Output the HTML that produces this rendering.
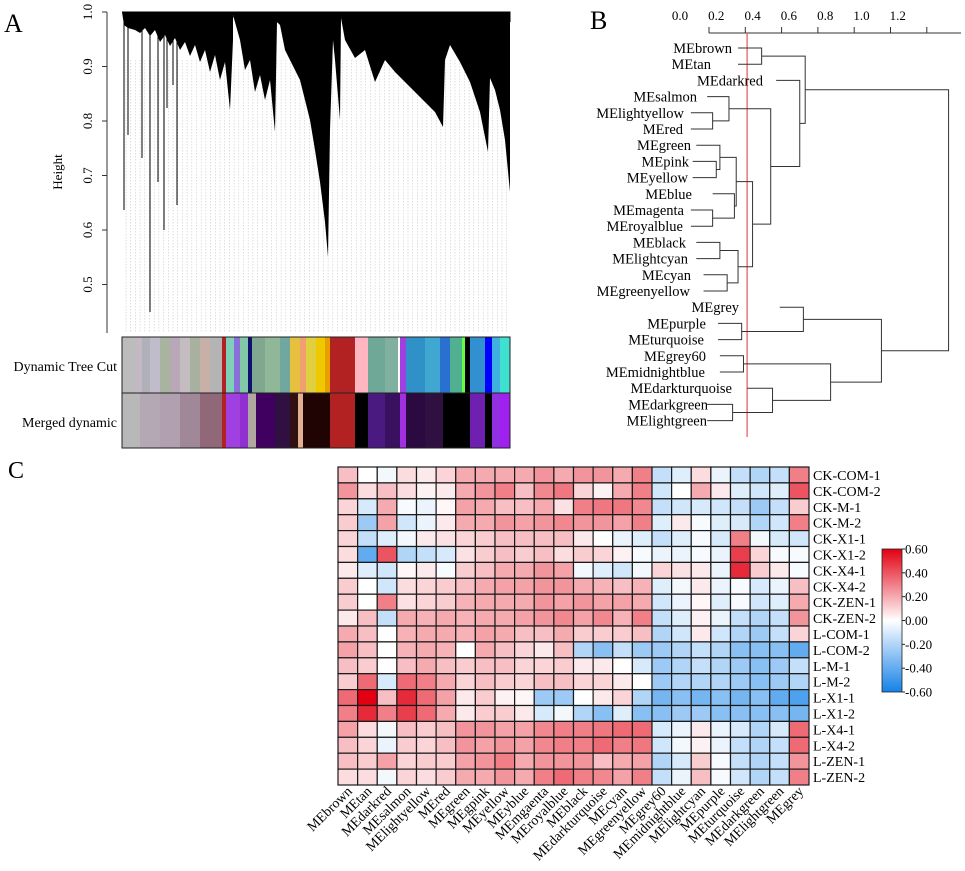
<!DOCTYPE html>
<html><head><meta charset="utf-8"><style>
html,body{margin:0;padding:0;background:#fff}
svg{display:block;font-family:"Liberation Serif",serif}
</style></head><body>
<svg id="fig" width="965" height="871" viewBox="0 0 965 871" xmlns="http://www.w3.org/2000/svg">
<g id="panelA"></g>
<g id="panelB"></g>
<g id="panelC"></g>
</svg>
<script>
// ===== Panel C data =====
const rowLabels = ["CK-COM-1","CK-COM-2","CK-M-1","CK-M-2","CK-X1-1","CK-X1-2","CK-X4-1","CK-X4-2","CK-ZEN-1","CK-ZEN-2","L-COM-1","L-COM-2","L-M-1","L-M-2","L-X1-1","L-X1-2","L-X4-1","L-X4-2","L-ZEN-1","L-ZEN-2"];
const colLabels = ["MEbrown","MEtan","MEdarkred","MEsalmon","MElightyellow","MEred","MEgreen","MEgpink","MEyellow","MEyblue","MEmgaenta","MEroyalblue","MEblack","MEdarkturquoise","MEcyan","MEgreenyellow","MEgrey60","MEmidnightblue","MElightcyan","MEpurple","MEturquoise","MEdarkgreen","MElightgreen","MEgrey"];
const corrValues = [
[.15,0,-.03,.08,.05,.1,.2,.2,.2,.2,.25,.2,.25,.25,.2,.3,-.15,-.08,.08,-.05,-.15,-.2,-.15,.3],
[.25,.08,.15,.08,.03,.05,.2,.25,.3,.15,.28,.32,.1,.03,.2,.3,-.12,0,.2,.05,-.08,-.12,-.08,.4],
[.1,-.1,.2,-.02,-.05,.02,.22,.2,.15,.15,.2,.07,.3,.32,.32,.28,-.15,-.12,-.1,-.12,-.15,-.25,-.15,.12],
[.12,-.25,.22,-.12,-.05,.05,.2,.2,.25,.22,.25,.28,.25,.25,.22,.3,-.08,.05,-.02,-.08,-.1,-.2,-.12,.3],
[.1,-.15,-.08,-.03,.05,.07,.1,.12,.15,.15,.15,.15,.05,0,-.05,-.08,-.15,-.08,-.02,-.1,.3,-.03,-.1,-.12],
[.08,-.4,.4,-.2,-.15,-.1,.07,.12,.15,.12,.15,.08,.12,.1,.03,-.02,-.05,-.05,-.02,-.05,.45,.1,-.02,-.02],
[.05,-.08,-.12,.02,.05,-.02,.12,.15,.2,.2,.25,.22,-.03,-.08,-.12,-.03,.1,.07,.05,-.05,.5,.12,.05,-.02],
[.12,0,-.12,.08,.1,.12,.15,.2,.22,.22,.25,.25,.2,.18,.15,.18,-.08,-.03,.05,-.05,-.02,-.1,-.05,.15],
[.12,0,.3,.07,.1,.12,.18,.2,.2,.2,.25,.22,.25,.22,.22,.2,-.12,-.05,.02,-.08,-.02,-.12,-.08,.2],
[.05,.15,-.15,.2,.18,.2,.18,.2,.2,.22,.25,.28,.22,.28,.18,.3,-.15,-.08,.03,-.05,-.15,-.2,-.15,.25],
[.2,.15,0,.18,.2,.2,.18,.22,.2,.15,.15,.2,.12,.12,.12,.15,-.2,-.12,.05,-.12,-.2,-.25,-.15,.1],
[.22,.15,0,.18,.2,.18,0,.2,.15,.1,.05,.15,-.2,-.3,-.15,-.25,-.25,-.2,-.15,-.2,-.3,-.3,-.3,-.4],
[.15,.12,0,.15,.2,.15,.12,.15,.15,.1,.1,.12,.05,.05,0,-.1,-.25,-.2,-.15,-.2,-.25,-.3,-.25,-.15],
[.12,.35,-.1,.35,.3,.2,.1,.15,.12,.1,.15,.15,.1,.1,.05,0,-.25,-.2,-.2,-.2,-.25,-.3,-.25,-.2],
[.35,.6,.15,.5,.35,.22,.05,.12,.03,.02,-.25,-.25,0,.05,.1,-.2,-.35,-.3,-.35,-.3,-.35,-.3,-.4,-.45],
[.3,.5,.3,.45,.35,.2,.05,.12,.12,.05,-.1,-.03,-.2,-.3,-.08,-.3,-.3,-.25,-.25,-.3,-.3,-.3,-.3,-.35],
[.22,.08,-.03,.15,.12,.15,.25,.25,.22,.22,.28,.3,.3,.32,.35,.35,-.1,-.05,.05,-.05,-.1,-.2,-.1,.35],
[.15,.1,-.05,.12,.1,.15,.25,.22,.25,.22,.28,.3,.3,.35,.3,.32,-.12,-.03,.03,-.05,-.15,-.2,-.15,.35],
[.15,.12,.22,.1,.12,.12,.22,.25,.3,.2,.25,.25,.25,.15,.2,.22,-.2,-.1,.12,-.02,-.15,-.2,-.15,.25],
[.08,.08,-.03,.1,.08,.12,.2,.2,.25,.2,.3,.35,.3,.28,.22,.3,-.15,-.05,.15,-.02,-.12,-.2,-.15,.3]
];
const legendTicks = [0.6,0.4,0.2,0,-0.2,-0.4,-0.6];

// ===== Panel B data =====
const leafNames = ["MEbrown","MEtan","MEdarkred","MEsalmon","MElightyellow","MEred","MEgreen","MEpink","MEyellow","MEblue","MEmagenta","MEroyalblue","MEblack","MElightcyan","MEcyan","MEgreenyellow","MEgrey","MEpurple","MEturquoise","MEgrey60","MEmidnightblue","MEdarkturquoise","MEdarkgreen","MElightgreen"];
const leafHeights = [.16,.16,.37,-.01,-.10,-.10,-.07,-.09,-.09,.02,-.10,-.10,-.07,-.07,-.03,-.03,.39,.05,.05,.06,.06,.21,-.01,-.01];
const treeAxisTicks = ["0.0","0.2","0.4","0.6","0.8","1.0","1.2"];
const cutHeight = 0.2;
const mergeTree = [1.32,
  [0.53,[0.29,0,1],[0.50,2,[0.34,[0.11,3,[0.02,4,5]],[0.24,[0.15,[0.06,6,[0.04,7,8]],[0.14,9,[0.02,10,11]]],[0.16,[0.06,12,13],[0.10,14,15]]]]]],
  [0.95,[0.52,16,[0.18,17,18]],[0.67,[0.19,19,20],[0.35,21,[0.13,22,23]]]]];
// label right edges (layout, px)
const labelRightPx = [732,711,763,697,684,683,691,689,688,692,684,683,686,688,691,690,739,706,704,706,705,732,708,707];

// ===== Panel A data =====
const yTicksA = [1.0,0.9,0.8,0.7,0.6,0.5];

const NS="http://www.w3.org/2000/svg";
function mk(tag,attrs,parent,text){const e=document.createElementNS(NS,tag);for(const k in attrs)e.setAttribute(k,attrs[k]);if(text!==undefined)e.textContent=text;parent.appendChild(e);return e;}

// ---------- Panel C ----------
(function(){
  const g=document.getElementById('panelC');
  const x0=338,x1=809,y0=467,y1=785;
  const cw=(x1-x0)/colLabels.length, rh=(y1-y0)/rowLabels.length;
  function col(v){
    const t=Math.max(-1,Math.min(1,v/0.6));
    let r,gg,b;
    if(t>=0){r=255+(226-255)*t;gg=255+(0-255)*t;b=255+(18-255)*t;}
    else{const s=-t;r=255+(20-255)*s;gg=255+(130-255)*s;b=255+(232-255)*s;}
    return `rgb(${r|0},${gg|0},${b|0})`;
  }
  const t=mk('text',{x:8,y:478,'font-size':24},g,'C');
  
  
  for(let i=0;i<rowLabels.length;i++){
    for(let j=0;j<colLabels.length;j++){
      const r=mk('rect',{x:x0+j*cw,y:y0+i*rh,width:cw,height:rh,fill:col(corrValues[i][j]),stroke:'#1a1a1a','stroke-width':1.2},g);
      
      
    }
    const l=mk('text',{x:x1+4,y:y0+(i+0.5)*rh+5,'font-size':14},g,rowLabels[i]);
    
    
  }
  for(let j=0;j<colLabels.length;j++){
    const cx=x0+(j+0.5)*cw+5, cy=y1+7;
    const l=mk('text',{x:cx,y:cy,'font-size':14,'text-anchor':'end',transform:`rotate(-45 ${cx} ${cy})`},g,colLabels[j]);
    
    
  }
  const lx=882,ly0=549,ly1=692;
  const defs=mk('defs',{},g);
  const gr=mk('linearGradient',{id:'lg',x1:0,y1:0,x2:0,y2:1},defs);
  mk('stop',{offset:'0','stop-color':col(0.6)},gr);
  mk('stop',{offset:'0.5','stop-color':col(0)},gr);
  mk('stop',{offset:'1','stop-color':col(-0.6)},gr);
  const bar=mk('rect',{x:lx,y:ly0,width:20,height:ly1-ly0,fill:'url(#lg)',stroke:'#222','stroke-width':0.8},g);
  
  
  legendTicks.forEach(v=>{
    const y=ly0+(0.6-v)/1.2*(ly1-ly0);
    mk('line',{x1:lx+20,x2:lx+23,y1:y,y2:y,stroke:'#222'},g);
    const l=mk('text',{x:lx+23,y:y+4.5,'font-size':13},g,v.toFixed(2));
    
    
  });
})();

// ---------- Panel B ----------
(function(){
  const g=document.getElementById('panelB');
  const hx=h=>709+h*181.5;
  const ly=i=>48+i*16.2;
  const t=mk('text',{x:590,y:29,'font-size':26},g,'B');
  
  
  mk('line',{x1:709,x2:961,y1:33,y2:33,stroke:'#333','stroke-width':1},g);
  treeAxisTicks.forEach((s,i)=>{
    const x=hx(i*0.2);
    mk('line',{x1:x,x2:x,y1:27,y2:33,stroke:'#333'},g);
    const l=mk('text',{x:x-29,y:20,'font-size':13,'text-anchor':'middle'},g,s);
    
    
  });
  mk('line',{x1:hx(cutHeight*1.05),x2:hx(cutHeight*1.05),y1:33,y2:437,stroke:'#e8606a','stroke-width':1.3},g);
  function draw(n){
    if(typeof n==='number'){
      const x=hx(leafHeights[n]), y=ly(n);
      const l=mk('text',{x:labelRightPx[n],y:y+5,'font-size':14.5,'text-anchor':'end'},g,leafNames[n]);
      
      
      return {x,y};
    }
    const a=draw(n[1]),b=draw(n[2]);const x=hx(n[0]);
    mk('path',{d:`M${a.x},${a.y}H${x}V${b.y}H${b.x}`,fill:'none',stroke:'#333','stroke-width':1},g);
    return {x,y:(a.y+b.y)/2};
  }
  draw(mergeTree);
})();

// ---------- Panel A ----------
(function(){
  const g=document.getElementById('panelA');
  const yv=v=>12+(1-v)*545;
  const t=mk('text',{x:4,y:32,'font-size':26},g,'A');
  
  
  mk('line',{x1:107,x2:107,y1:12,y2:333,stroke:'#333'},g);
  yTicksA.forEach(v=>{
    const y=yv(v);
    mk('line',{x1:102,x2:107,y1:y,y2:y,stroke:'#333'},g);
    const l=mk('text',{x:92,y:y,'font-size':13,'text-anchor':'middle',transform:`rotate(-90 92 ${y})`},g,v.toFixed(1));
    
    
  });
  const yl=mk('text',{x:62,y:172,'font-size':13,'text-anchor':'middle',transform:'rotate(-90 62 172)'},g,'Height');
  
  
  for(let x=126;x<510;x+=4.7){mk('line',{x1:x,x2:x,y1:60,y2:333,stroke:'#c8c8c8','stroke-width':0.6,'stroke-dasharray':'1.5,1.5'},g);}
  const env=[[122,12],[124,25],[128,28],[135,30],[140,33],[145,28],[150,36],[155,30],[160,42],[165,35],[170,46],[175,38],[180,50],[185,42],[190,56],[195,45],[200,62],[205,50],[210,72],[215,55],[220,80],[225,62],[230,110],[233,40],[233,15],[240,40],[245,70],[250,60],[255,92],[260,75],[265,100],[270,80],[275,132],[277,22],[280,25],[285,50],[290,60],[295,70],[300,80],[305,100],[310,120],[315,150],[320,182],[325,222],[328,257],[330,130],[333,40],[335,60],[340,120],[341,18],[345,40],[355,58],[365,50],[375,82],[385,60],[395,72],[405,82],[415,92],[425,102],[435,112],[443,127],[445,60],[450,45],[460,62],[470,82],[480,112],[488,152],[490,78],[495,90],[500,110],[505,140],[510,192],[510,12]];
  const p=mk('polygon',{points:env.map(q=>q.join(',')).join(' '),fill:'#000'},g);
  
  
  [[124,210],[128,135],[142,158],[150,312],[158,182],[164,230],[167,108],[177,205],[173,85]].forEach(q=>mk('line',{x1:q[0],x2:q[0],y1:20,y2:q[1],stroke:'#000','stroke-width':1},g));
  mk('path',{d:'M122,12H510V22 M230,17H510 M273,22H293 M302,38H328 M420,39H448 M435,57H443 M482,76H492',fill:'none',stroke:'#000','stroke-width':1},g);
  const dyn=[[122,135,'#bcbcbc'],[135,142,'#c4b8c4'],[142,150,'#b0b0b8'],[150,160,'#c0bccc'],[160,170,'#a8b4a0'],[170,180,'#b8a8b8'],[180,190,'#c4bcc0'],[190,200,'#a8b0a0'],[200,210,'#c8b0a8'],[210,222,'#b4b4b4'],[222,226,'#b22222'],[226,234,'#7fd0b8'],[234,240,'#8870d8'],[240,248,'#80c8a8'],[248,252,'#101070'],[252,265,'#80a890'],[265,280,'#90b898'],[280,290,'#70a8a0'],[290,300,'#e8c040'],[300,306,'#f0a070'],[306,316,'#e0d040'],[316,325,'#f0c800'],[325,330,'#e8a000'],[330,355,'#b22222'],[355,368,'#ffb6c1'],[368,385,'#70a898'],[385,398,'#80b0a0'],[398,400,'#ffffff'],[400,406,'#a040e0'],[406,425,'#3090c8'],[425,440,'#40a8d0'],[440,450,'#2a70d0'],[450,462,'#50b090'],[462,465,'#60ff40'],[465,470,'#000'],[470,485,'#3090d0'],[485,492,'#0000ff'],[492,500,'#40b0e0'],[500,510,'#40e0d0']];
  const mer=[[122,140,'#b8b8b8'],[140,160,'#b4a8b4'],[160,180,'#b0a0b0'],[180,200,'#a08898'],[200,222,'#906878'],[222,226,'#b22222'],[226,240,'#a040e0'],[240,248,'#9030d0'],[248,256,'#b0a8a0'],[256,275,'#400060'],[275,290,'#301040'],[290,298,'#301010'],[298,303,'#e0b090'],[303,330,'#200404'],[330,355,'#b22222'],[355,368,'#000'],[368,385,'#4a1a80'],[385,400,'#3a1060'],[400,406,'#a030e0'],[406,425,'#2a0a40'],[425,443,'#301040'],[443,470,'#000'],[470,485,'#7020b0'],[485,492,'#000'],[492,500,'#9030e0'],[500,510,'#a020f0']];
  dyn.forEach(s=>mk('rect',{x:s[0],y:337,width:s[1]-s[0],height:56,fill:s[2]},g));
  mer.forEach(s=>mk('rect',{x:s[0],y:393,width:s[1]-s[0],height:55,fill:s[2]},g));
  mk('rect',{x:122,y:337,width:388,height:111,fill:'none',stroke:'#222'},g);
  mk('line',{x1:122,x2:510,y1:393,y2:393,stroke:'#222'},g);
  const a=mk('text',{x:117,y:371,'font-size':14,'text-anchor':'end'},g,'Dynamic Tree Cut');
  
  
  const b=mk('text',{x:117,y:427,'font-size':14,'text-anchor':'end'},g,'Merged dynamic');
  
  
})();
</script>
</body></html>
